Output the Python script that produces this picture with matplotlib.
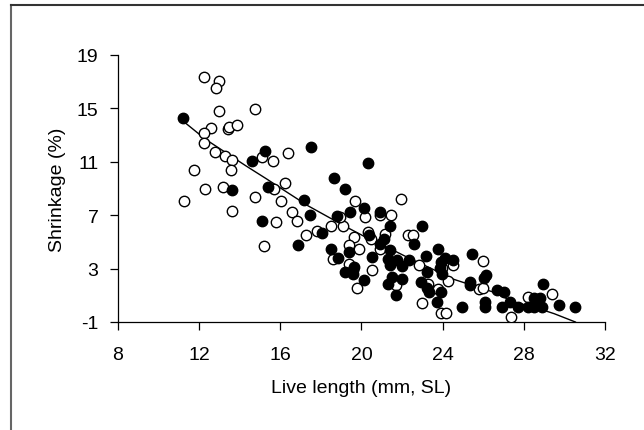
import matplotlib
matplotlib.use("Agg")
import matplotlib.pyplot as plt
from matplotlib.lines import Line2D

plt.rcParams["font.family"] = ["Liberation Sans", "DejaVu Sans"]
plt.rcParams["axes.unicode_minus"] = False

# filled circles
filled_x = [11.2, 14.6, 15.24, 17.5, 20.33, 13.6, 15.38, 18.64, 19.19, 17.16,
            15.1, 17.45, 16.88, 18.05, 18.78, 19.43, 20.1, 20.9, 21.38, 22.98,
            20.35, 21.12, 20.92, 18.5, 19.4, 18.85, 21.38, 21.3, 21.38, 20.53,
            21.74, 22.33, 22.0, 22.6, 23.19, 23.77, 24.1, 24.52, 23.9, 23.87,
            23.95, 23.25, 19.19, 19.6, 19.64, 19.6, 20.1, 21.3, 21.5, 21.99,
            21.7, 22.93, 23.33, 23.25, 23.71, 23.92, 24.97, 25.47, 25.33, 25.33,
            26.14, 26.02, 26.08, 26.08, 26.69, 27.0, 26.92, 27.3, 27.7, 28.2,
            28.5, 28.8, 28.5, 28.9, 28.94, 29.73, 30.54]
filled_y = [14.3, 11.05, 11.84, 12.14, 10.9, 8.88, 9.1, 9.77, 8.93, 8.13,
            6.6, 6.98, 4.79, 5.63, 6.96, 7.23, 7.53, 7.23, 6.16, 6.16,
            5.48, 5.23, 4.81, 4.49, 4.24, 3.79, 4.36, 3.74, 3.24, 3.86,
            3.61, 3.66, 3.16, 4.86, 3.91, 4.49, 3.79, 3.61, 3.49, 3.04,
            2.62, 2.74, 2.74, 2.87, 3.11, 2.57, 2.12, 1.87, 2.37, 2.24,
            1.04, 1.99, 1.24, 1.54, 0.5, 1.24, 0.12, 4.09, 1.99, 1.74,
            2.49, 2.29, 0.5, 0.12, 1.42, 1.24, 0.12, 0.5, 0.12, 0.12,
            0.82, 0.82, 0.12, 0.12, 1.82, 0.25, 0.12]

# open circles
open_x = [12.22, 12.99, 12.82, 12.99, 14.77, 12.56, 13.43, 13.49, 13.88, 12.26,
          12.22, 12.8, 13.27, 13.6, 13.57, 11.77, 12.3, 13.15, 11.24, 13.64,
          15.1, 15.62, 16.39, 16.23, 15.7, 14.77, 16.05, 16.57, 15.78, 16.82,
          17.28, 17.81, 15.2, 18.5, 19.1, 18.95, 19.68, 20.16, 20.93, 21.46,
          21.97, 19.64, 20.33, 20.49, 21.14, 22.29, 22.53, 19.39, 19.86, 20.89,
          18.6, 19.39, 20.53, 22.85, 24.53, 23.97, 23.27, 24.26, 23.75, 21.68,
          19.8, 22.98, 23.9, 24.14, 26.0, 25.78, 25.98, 28.19, 29.37, 27.36]
open_y = [17.33, 17.05, 16.5, 14.81, 14.96, 13.54, 13.46, 13.59, 13.76, 13.14,
          12.39, 11.77, 11.47, 11.14, 10.42, 10.35, 8.93, 9.1, 8.05, 7.3,
          11.34, 11.05, 11.67, 9.42, 8.98, 8.33, 8.1, 7.23, 6.51, 6.56,
          5.48, 5.83, 4.66, 6.16, 6.18, 6.86, 8.03, 6.86, 7.03, 7.03,
          8.18, 5.36, 5.73, 5.23, 5.61, 5.48, 5.48, 4.74, 4.44, 4.44,
          3.74, 3.36, 2.92, 3.24, 3.24, 3.04, 1.87, 2.09, 1.49, 1.79,
          1.54, 0.45, -0.33, -0.33, 3.54, 1.49, 1.54, 0.87, 1.09, -0.63]

# smoothed trend line
trend_x = [11.28, 12.3, 13.3, 14.3, 15.34, 16.35, 17.37, 18.38, 19.4, 20.4,
           21.4, 22.4, 23.45, 24.46, 25.47, 26.5, 27.5, 28.5, 29.5, 30.54]
trend_y = [13.96, 12.7, 11.7, 10.7, 9.7, 8.7, 7.7, 6.85, 6.0, 5.2,
           4.5, 3.74, 3.0, 2.24, 1.74, 1.24, 0.5, 0.12, -0.38, -1.0]

fig = plt.figure(figsize=(6.44, 4.31), dpi=100)
ax = fig.add_axes([118 / 644, 1 - 323 / 431, (605 - 118) / 644, (323 - 56) / 431])

ax.plot(trend_x, trend_y, color="black", lw=1.0, zorder=2)
ax.plot(open_x, open_y, "o", ms=7.5, mfc="white", mec="black", mew=1.0, ls="none", zorder=3)
ax.plot(filled_x, filled_y, "o", ms=7.5, mfc="black", mec="black", mew=1.0, ls="none", zorder=4)

ax.set_xlim(8, 32)
ax.set_ylim(-1, 19)
ax.set_xticks([8, 12, 16, 20, 24, 28, 32])
ax.set_yticks([-1, 3, 7, 11, 15, 19])
ax.spines[["top", "right"]].set_visible(False)
for s in ("left", "bottom"):
    ax.spines[s].set_linewidth(0.9)
ax.tick_params(direction="out", length=6, width=0.9, labelsize=14)
ax.tick_params(axis="x", pad=11)
ax.tick_params(axis="y", pad=8)
ax.set_xlabel("Live length (mm, SL)", fontsize=14, labelpad=12)
ax.set_ylabel("Shrinkage (%)", fontsize=14, labelpad=8)

# outer frame (left and top edges visible)
fig.add_artist(Line2D([11 / 644, 11 / 644], [0, 1 - 6 / 431], transform=fig.transFigure,
                      color="#666666", lw=1.5))
fig.add_artist(Line2D([11 / 644, 1], [1 - 6 / 431, 1 - 6 / 431], transform=fig.transFigure,
                      color="#333333", lw=1.5))

fig.savefig("out.png", dpi=100)
